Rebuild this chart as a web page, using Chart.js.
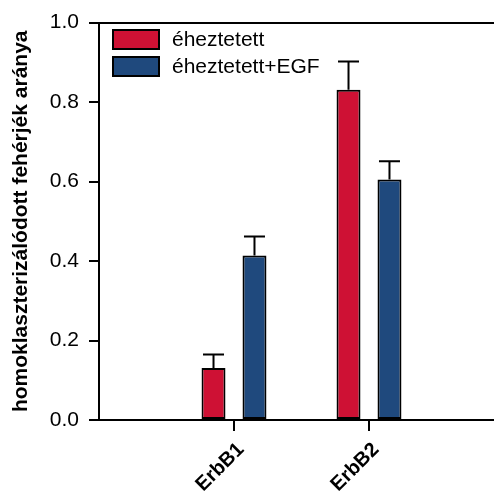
<!DOCTYPE html>
<html>
<head>
<meta charset="utf-8">
<script src="https://cdn.jsdelivr.net/npm/chart.js@4/dist/chart.umd.min.js"></script>
<style>
  html, body { margin: 0; padding: 0; overflow: hidden; background: #fff; }
  #wrap { width: 494px; height: 492px; overflow: hidden; }
</style>
</head>
<body>
<div id="wrap"><canvas id="c" width="520" height="492"></canvas></div>
<script>
// Receptors on the category axis
const categories = ['ErbB1', 'ErbB2'];
// Homocluster fraction, starved cells
const starved = [0.131, 0.831];
const starvedErr = [0.034, 0.071];
// Homocluster fraction, starved cells + EGF
const starvedEgf = [0.414, 0.605];
const starvedEgfErr = [0.048, 0.046];
// Y tick step
const yTicks = [0, 0.2, 0.4, 0.6, 0.8, 1.0];

const FONT = "'Liberation Sans', Arial, sans-serif";
const RED = 'rgb(206,17,52)';
const BLUE = 'rgb(31,73,125)';

// empty slots at both ends leave room left and right of the groups
const labels = [''].concat(categories, ['']);
const pad = arr => [null].concat(arr, [null]);

const errorBars = {
  id: 'errorBars',
  afterDatasetsDraw(chart) {
    const ctx = chart.ctx;
    const y = chart.scales.y;
    ctx.save();
    ctx.strokeStyle = '#000';
    ctx.lineWidth = 2;
    chart.data.datasets.forEach((ds, di) => {
      const meta = chart.getDatasetMeta(di);
      meta.data.forEach((bar, i) => {
        const v = ds.data[i];
        const e = ds.errors[i];
        if (v == null || e == null) return;
        const top = y.getPixelForValue(v);
        const cap = y.getPixelForValue(v + e);
        const half = 10.5;
        ctx.beginPath();
        ctx.moveTo(bar.x, top);
        ctx.lineTo(bar.x, cap);
        ctx.moveTo(bar.x - half, cap);
        ctx.lineTo(bar.x + half, cap);
        ctx.stroke();
      });
    });
    ctx.restore();
  }
};

const boxLegend = {
  id: 'boxLegend',
  afterDraw(chart) {
    const ctx = chart.ctx;
    ctx.save();
    ctx.font = '21px ' + FONT;
    ctx.textBaseline = 'middle';
    ctx.textAlign = 'left';
    chart.data.datasets.forEach((ds, i) => {
      const bx = 113, by = 30 + i * 27, bw = 46, bh = 19;
      ctx.fillStyle = ds.backgroundColor;
      ctx.fillRect(bx, by, bw, bh);
      ctx.strokeStyle = '#000';
      ctx.lineWidth = 2;
      ctx.strokeRect(bx, by, bw, bh);
      ctx.fillStyle = '#000';
      ctx.fillText(ds.label, 172, by + bh / 2 + 1);
    });
    ctx.restore();
  }
};

new Chart(document.getElementById('c'), {
  type: 'bar',
  data: {
    labels: labels,
    datasets: [
      { label: 'éheztetett', data: pad(starved), errors: pad(starvedErr),
        backgroundColor: RED, borderColor: '#000', borderWidth: 2, borderSkipped: false },
      { label: 'éheztetett+EGF', data: pad(starvedEgf), errors: pad(starvedEgfErr),
        backgroundColor: BLUE, borderColor: '#000', borderWidth: 2, borderSkipped: false }
    ]
  },
  options: {
    responsive: false,
    animation: false,
    devicePixelRatio: 1,
    layout: { padding: { top: 16, right: 16, left: 0, bottom: 0 } },
    categoryPercentage: 0.607,
    barPercentage: 0.585,
    plugins: { legend: { display: false }, tooltip: { enabled: false } },
    scales: {
      x: {
        offset: false,
        grid: {
          offset: false,
          drawOnChartArea: false,
          tickLength: 11,
          lineWidth: 2,
          tickColor: c => (labels[c.index] ? '#000' : 'rgba(0,0,0,0)')
        },
        border: { color: '#000', width: 2 },
        ticks: {
          autoSkip: false,
          minRotation: 45,
          maxRotation: 45,
          padding: 7,
          labelOffset: 7,
          color: '#000',
          font: { family: FONT, size: 20, weight: 'bold' }
        },
        afterFit: s => { s.height = 72; s.paddingLeft = 0; s.paddingRight = 0; }
      },
      y: {
        min: 0,
        max: 1,
        afterBuildTicks: s => { s.ticks = yTicks.map(v => ({ value: v })); },
        grid: {
          drawOnChartArea: true,
          tickLength: 10,
          lineWidth: 2,
          tickColor: '#000',
          color: c => (c.tick && c.tick.value === 1 ? '#000' : 'rgba(0,0,0,0)')
        },
        border: { color: '#000', width: 2 },
        ticks: {
          padding: 10,
          color: '#000',
          font: { family: FONT, size: 21 },
          callback: v => v.toFixed(1)
        },
        title: {
          display: true,
          text: 'homoklaszterizálódott fehérjék aránya',
          color: '#000',
          font: { family: FONT, size: 21, weight: 'bold', lineHeight: 1.2 },
          padding: { top: 9, bottom: 0 }
        },
        afterFit: s => { s.width = 99; }
      }
    }
  },
  plugins: [errorBars, boxLegend]
});
</script>
</body>
</html>
